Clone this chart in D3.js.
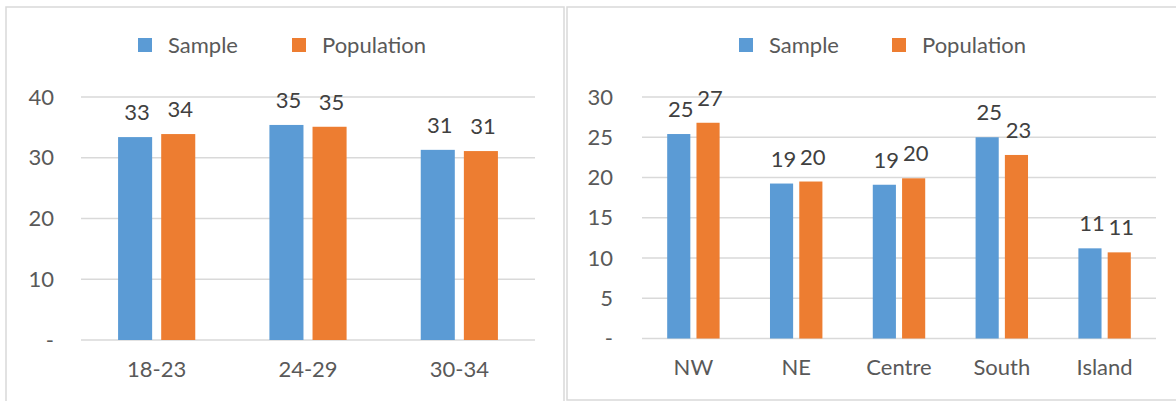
<!DOCTYPE html>
<html>
<head>
<meta charset="utf-8">
<script src="https://cdn.jsdelivr.net/npm/d3@7"></script>
<style>
  body { margin: 0; background: #fff; }
  svg { display: block; }
</style>
</head>
<body>
<div id="chart"></div>
<script>
// series names + colours
const seriesNames = ["Sample", "Population"]
const seriesColors = ["#5b9bd5", "#ed7d31"]

// left chart: age groups
const ageGroups = ["18-23", "24-29", "30-34"]
const ageSample = [33.4, 35.4, 31.3]
const agePopulation = [33.9, 35.1, 31.1]
const ageTicks = [0, 10, 20, 30, 40]

// right chart: areas
const areas = ["NW", "NE", "Centre", "South", "Island"]
const areaSample = [25.4, 19.25, 19.1, 25.0, 11.2]
const areaPopulation = [26.8, 19.5, 19.9, 22.8, 10.7]
const areaTicks = [0, 5, 10, 15, 20, 25, 30]

const W = 1176, H = 401
const font = "Lato, 'Open Sans', sans-serif"
const fs = 22

const svg = d3.select("#chart").append("svg")
    .attr("width", W)
    .attr("height", H)
    .style("font-family", font)

function panel(o) {
  const g = svg.append("g")

  // frame
  g.append("rect")
      .attr("x", o.frame[0]).attr("y", o.frame[1])
      .attr("width", o.frame[2]).attr("height", o.frame[3])
      .attr("fill", "#fff")
      .attr("stroke", "#d9d9d9")
      .attr("stroke-width", 1.5)

  const x = d3.scaleBand()
      .domain(o.cats)
      .range([o.left, o.right])
  const y = d3.scaleLinear()
      .domain([0, d3.max(o.ticks)])
      .range([o.bottom, o.top])

  // bars in each category: width .225 of band, gap .06
  const groupW = x.bandwidth() * 0.51
  const x1 = d3.scaleBand()
      .domain(seriesNames)
      .range([0, groupW])
      .paddingInner(0.21)

  // gridlines
  g.append("g")
    .selectAll("line")
    .data(o.ticks)
    .join("line")
      .attr("x1", o.left).attr("x2", o.right)
      .attr("y1", d => y(d)).attr("y2", d => y(d))
      .attr("stroke", "#d9d9d9")
      .attr("stroke-width", 1.5)

  // y axis labels
  const yAxis = g.append("g")
      .attr("transform", `translate(${o.left},0)`)
      .call(d3.axisLeft(y).tickValues(o.ticks).tickSize(0).tickPadding(o.tickPad)
        .tickFormat(d => d === 0 ? "-" : d))
  yAxis.select(".domain").remove()
  yAxis.selectAll("text")
      .attr("font-family", font)
      .attr("font-size", fs)
      .attr("fill", "#595959")

  // x axis labels
  const xAxis = g.append("g")
      .attr("transform", `translate(0,${o.bottom})`)
      .call(d3.axisBottom(x).tickSize(0).tickPadding(21))
  xAxis.select(".domain").remove()
  xAxis.selectAll("text")
      .attr("font-family", font)
      .attr("font-size", fs)
      .attr("fill", "#595959")

  const rows = []
  o.cats.forEach((c, i) => {
    o.series.forEach((s, j) => rows.push({cat: c, name: seriesNames[j], color: seriesColors[j], value: s[i]}))
  })
  const off = (x.bandwidth() - groupW) / 2

  g.append("g")
    .selectAll("rect")
    .data(rows)
    .join("rect")
      .attr("x", d => x(d.cat) + off + x1(d.name))
      .attr("y", d => y(d.value))
      .attr("width", x1.bandwidth())
      .attr("height", d => y(0) - y(d.value))
      .attr("fill", d => d.color)

  g.append("g")
    .selectAll("text")
    .data(rows)
    .join("text")
      .attr("x", d => x(d.cat) + off + x1(d.name) + x1.bandwidth() / 2 + 2)
      .attr("y", d => y(d.value) - 17)
      .attr("text-anchor", "middle")
      .attr("font-size", fs)
      .attr("fill", "#404040")
      .text(d => Math.round(d.value))

  // legend
  const leg = g.append("g")
    .selectAll("g")
    .data(seriesNames)
    .join("g")
      .attr("transform", (d, i) => `translate(${o.legendX[i]},45)`)
  leg.append("rect")
      .attr("x", 0).attr("y", -7)
      .attr("width", 14).attr("height", 14)
      .attr("fill", (d, i) => seriesColors[i])
  leg.append("text")
      .attr("x", 30)
      .attr("dy", "0.35em")
      .attr("font-size", fs)
      .attr("fill", "#595959")
      .text(d => d)
}

panel({
  frame: [6, 7, 558, 410],
  cats: ageGroups, series: [ageSample, agePopulation], ticks: ageTicks,
  left: 81, right: 535, top: 97, bottom: 340, tickPad: 27,
  legendX: [138, 292]
})

panel({
  frame: [567, 7, 620, 393],
  cats: areas, series: [areaSample, areaPopulation], ticks: areaTicks,
  left: 642, right: 1156, top: 97, bottom: 338.5, tickPad: 29,
  legendX: [739, 892]
})
</script>
</body>
</html>
